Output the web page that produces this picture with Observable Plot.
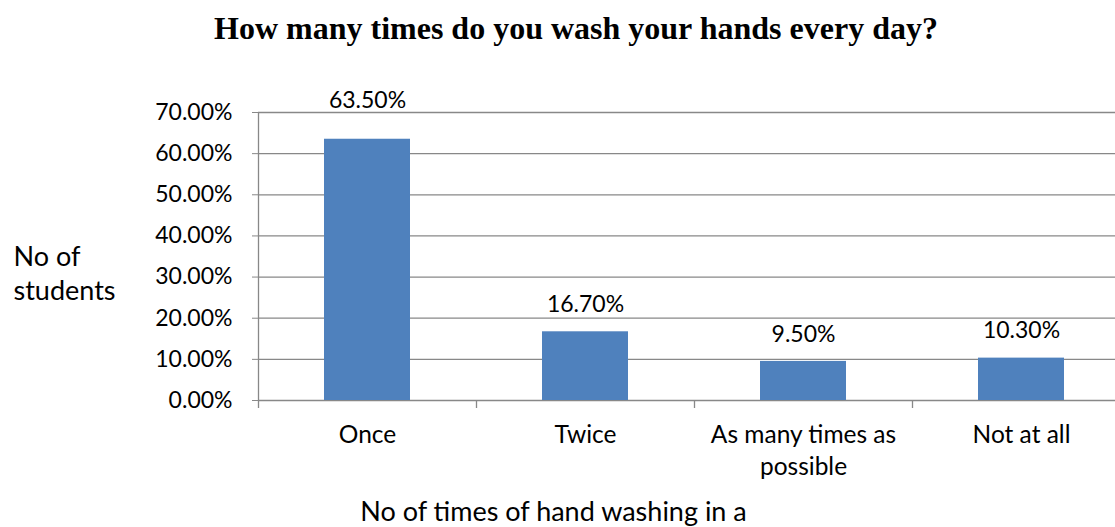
<!DOCTYPE html>
<html>
<head>
<meta charset="utf-8">
<script src="https://cdn.jsdelivr.net/npm/d3@7"></script>
<script src="https://cdn.jsdelivr.net/npm/@observablehq/plot@0.6"></script>
<style>
  html, body { margin: 0; padding: 0; background: #fff; }
  #wrap { width: 1115px; height: 527px; overflow: hidden; position: relative; }
  #title { height: 60px; line-height: 56px; text-align: center; padding-left: 37px; box-sizing: border-box;
           font-family: "Liberation Serif", "Times New Roman", serif; font-weight: bold; font-size: 32px; color: #000; }
</style>
</head>
<body>
<div id="wrap">
  <div id="title">How many times do you wash your hands every day?</div>
  <div id="chart"></div>
</div>
<script>
const categories = ["Once", "Twice", "As many times as possible", "Not at all"];
const categoryLabels = ["Once", "Twice", "As many times as\npossible", "Not at all"];
const values = [0.635, 0.167, 0.095, 0.103];
const yTicks = [0, 0.1, 0.2, 0.3, 0.4, 0.5, 0.6, 0.7];
const yAxisLabel = "No of\nstudents";
const xAxisLabel = "No of times of hand washing in a";

const data = categories.map((c, i) => ({category: c, value: values[i]}));
const pct = d3.format(".2%");
const gray = "#888888";

const chart = Plot.plot({
  width: 1115,
  height: 467,
  marginTop: 52,
  marginBottom: 127,
  marginLeft: 258,
  marginRight: -15,
  style: {fontFamily: "Lato, 'Open Sans', sans-serif", fontSize: "23px", color: "#000", background: "#fff", overflow: "visible"},
  x: {type: "band", domain: categories, paddingInner: 0.605, paddingOuter: 0.3025, axis: null},
  y: {domain: [0, 0.7], axis: null},
  marks: [
    Plot.gridY(yTicks, {stroke: gray, strokeOpacity: 1, strokeWidth: 1.3}),
    Plot.ruleX([categories[0]], {dx: -109, stroke: gray, strokeWidth: 1.3}),
    Plot.ruleX(categories, {x: d => d, y1: 0, y2: -0.0195, dx: -109, stroke: gray, strokeWidth: 1.3}),
    Plot.axisY(yTicks, {tickFormat: pct, tickSize: 6, tickPadding: 20, stroke: gray, fontSize: 23, label: null}),
    Plot.barY(data, {x: "category", y: "value", fill: "#4F81BD"}),
    Plot.text(data.filter(d => d.value <= 0.6), {x: "category", y: "value", text: d => pct(d.value), dy: -27, lineAnchor: "middle", fontSize: 23, fill: "#000"}),
    Plot.text(data.filter(d => d.value > 0.6), {x: "category", y: "value", text: d => pct(d.value), dy: -39, lineAnchor: "middle", fontSize: 23, fill: "#000"}),
    Plot.text(categories, {x: d => d, text: (d, i) => categoryLabels[i], frameAnchor: "bottom", dy: 20, lineAnchor: "top", lineHeight: 1.3, fontSize: 24.5, fill: "#000"}),
    Plot.text([yAxisLabel], {text: d => d, frameAnchor: "left", dx: -245, dy: 16, textAnchor: "start", lineAnchor: "middle", lineHeight: 1.26, fontSize: 27, fill: "#000"}),
    Plot.text([xAxisLabel], {text: d => d, frameAnchor: "bottom-left", dx: 295, dy: 112, textAnchor: "middle", lineAnchor: "middle", fontSize: 27, fill: "#000"})
  ]
});
document.getElementById("chart").appendChild(chart);
</script>
</body>
</html>
